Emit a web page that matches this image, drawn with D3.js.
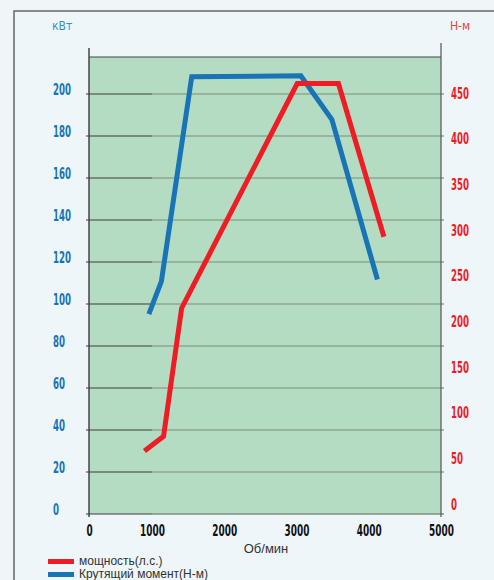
<!DOCTYPE html>
<html>
<head>
<meta charset="utf-8">
<script src="https://cdn.jsdelivr.net/npm/d3@7"></script>
<style>
  body { margin: 0; background: #eef6fa; }
  svg { display: block; }
  .narrow { font-family: "DejaVu Sans Condensed", "DejaVu Sans", sans-serif; font-stretch: condensed; }
</style>
</head>
<body>
<svg id="chart" width="494" height="580"></svg>
<script>
// rpm points and values
const powerRpm = [880, 1160, 1410, 3010, 3580, 4210];
const powerVals = [30, 37, 98, 205, 205, 132];
const torqueRpm = [950, 1130, 1550, 3060, 3490, 4120];
const torqueVals = [210, 246, 470, 471, 423, 248];

const xTicks = [0, 1000, 2000, 3000, 4000, 5000];
const leftTicks = [0, 20, 40, 60, 80, 100, 120, 140, 160, 180, 200];
const rightTicks = [0, 50, 100, 150, 200, 250, 300, 350, 400, 450];
const legendNames = ["мощность(л.с.)", "Крутящий момент(Н-м)"];

const svg = d3.select("#chart");
const BLUE = "#1874b4", RED = "#ee1c25";

// x axis in the picture is squeezed between 0 and 1000
const x = d3.scaleLinear().domain([0, 1000, 5000]).range([89, 152, 441]);
const yL = d3.scaleLinear().domain([0, 200]).range([514, 94]);
const yR = d3.scaleLinear().domain([0, 450]).range([506, 95]);

// squeeze the digits like the condensed font of the original
function squeeze(sel, w) {
  sel.each(function () {
    const n = this.textContent.length;
    d3.select(this).attr("textLength", n * w).attr("lengthAdjust", "spacingAndGlyphs");
  });
}

// frame
svg.append("rect").attr("x", 14).attr("y", 11).attr("width", 500).attr("height", 600)
  .attr("fill", "#eef6fa").attr("stroke", "#666").attr("stroke-width", 1.5);

// plot background
svg.append("rect").attr("x", x(0)).attr("y", 57)
  .attr("width", x(5000) - x(0)).attr("height", yL(0) - 57)
  .attr("fill", "#b4dcc2");

// grid lines: dark stub up to 1000, greyish green after
const grid = svg.append("g");
leftTicks.forEach(t => {
  grid.append("line").attr("x1", x(1000)).attr("x2", 444)
    .attr("y1", yL(t)).attr("y2", yL(t))
    .attr("stroke", t === 0 ? "#7e8f80" : "#8ea88f").attr("stroke-width", 1.5);
  grid.append("line").attr("x1", 86).attr("x2", x(1000))
    .attr("y1", yL(t)).attr("y2", yL(t))
    .attr("stroke", "#3a3a3a").attr("stroke-width", 1);
});

// axis lines
svg.append("line").attr("x1", x(0)).attr("x2", x(5000)).attr("y1", 57).attr("y2", 57)
  .attr("stroke", "#444").attr("stroke-width", 1);
svg.append("line").attr("x1", x(0)).attr("x2", x(0)).attr("y1", 48).attr("y2", yL(0) + 3)
  .attr("stroke", "#444").attr("stroke-width", 1.5);
svg.append("line").attr("x1", x(5000)).attr("x2", x(5000)).attr("y1", 43).attr("y2", yL(0) + 3)
  .attr("stroke", "#555").attr("stroke-width", 1.2);

// x axis
const xAxis = svg.append("g").attr("transform", "translate(0," + yL(0) + ")")
  .call(d3.axisBottom(x).tickValues(xTicks).tickSize(0).tickPadding(11).tickFormat(d3.format("d")));
xAxis.select(".domain").remove();
xAxis.selectAll("text").attr("class", "narrow").attr("font-size", 15).attr("font-weight", "bold")
  .attr("fill", "#111").call(squeeze, 6.2);

svg.append("text").attr("x", 266).attr("y", 553).attr("text-anchor", "middle")
  .attr("font-family", "Liberation Sans, sans-serif").attr("font-size", 13).attr("fill", "#333")
  .text("Об/мин");

// left labels
const left = svg.append("g").attr("transform", "translate(53,0)")
  .call(d3.axisLeft(yL).tickValues(leftTicks).tickSize(0).tickPadding(0));
left.select(".domain").remove();
left.selectAll("text").attr("class", "narrow").attr("text-anchor", "start").attr("dy", "0em")
  .attr("font-size", 15).attr("font-weight", 600).attr("fill", BLUE).call(squeeze, 6);

// right labels
const right = svg.append("g").attr("transform", "translate(451,0)")
  .call(d3.axisRight(yR).tickValues(rightTicks).tickSize(0).tickPadding(0));
right.select(".domain").remove();
right.selectAll("text").attr("class", "narrow").attr("dy", "0.2em")
  .attr("font-size", 15).attr("font-weight", 600).attr("fill", RED).call(squeeze, 6);

svg.append("text").attr("class", "narrow").attr("x", 52).attr("y", 30)
  .attr("font-size", 12).attr("fill", "#3a8fc8").text("кВт");
svg.append("text").attr("class", "narrow").attr("x", 450).attr("y", 30)
  .attr("font-size", 12).attr("fill", "#e0404a").text("Н-м");

// lines
const powerLine = d3.line().x((d, i) => x(powerRpm[i])).y(d => yL(d));
const torqueLine = d3.line().x((d, i) => x(torqueRpm[i])).y(d => yR(d));

svg.append("path").datum(torqueVals).attr("d", torqueLine)
  .attr("fill", "none").attr("stroke", BLUE).attr("stroke-width", 5);
svg.append("path").datum(powerVals).attr("d", powerLine)
  .attr("fill", "none").attr("stroke", RED).attr("stroke-width", 5);

// legend
const legend = svg.append("g");
[RED, BLUE].forEach((c, i) => {
  legend.append("rect").attr("x", 48).attr("y", 559 + i * 13).attr("width", 26).attr("height", 5)
    .attr("fill", c);
  legend.append("text").attr("x", 79).attr("y", 565 + i * 13)
    .attr("font-family", "Liberation Sans, sans-serif").attr("font-size", 12).attr("fill", "#333")
    .text(legendNames[i]);
});
</script>
</body>
</html>
